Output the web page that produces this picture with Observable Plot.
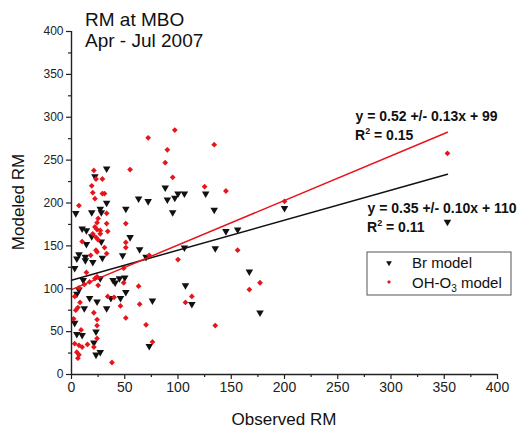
<!DOCTYPE html>
<html><head><meta charset="utf-8">
<script src="https://cdn.jsdelivr.net/npm/d3@7"></script>
<script src="https://cdn.jsdelivr.net/npm/@observablehq/plot@0.6"></script>
<style>body{margin:0;background:#fff;} svg{font-family:Arial,"Liberation Sans",sans-serif;}</style>
</head><body><div id="chart"></div>
<script>
// Br model (black triangles)
const brX = [200,353,167,177,88,126,100,106,63,72,90,97,95,134,51,55,64,145,156,106,135,70,48,50,107,51,113,76,46,73,
  33,22,33,4,19,27,28,10,14,19,28,14,7,29,13,
  5,13,20,3,11,27,39,41,45,7,5,17,24,33,37,12,3,23,5,10,21,23,27];
const brY = [194,178,120,72,218,211,211,211,205,202,204,206,189,192,193,160,146,167,169,148,147,137,139,113,104,96,82,86,89,33,
  240,231,200,188,189,193,189,170,168,161,155,152,140,136,137,
  135,133,131,124,110,112,110,107,112,99,94,89,85,77,89,77,60,50,47,46,37,23,26];
// OH-O3 model (red diamonds)
const ohX = [200,353,177,167,72,97,134,90,55,88,95,125,145,51,51,51,156,73,100,49,49,63,113,107,64,46,51,70,135,76,
  21,23,29,19,20,29,31,22,7,33,25,24,33,22,24,27,34,20,27,23,25,10,31,23,18,33,24,
  14,24,22,17,12,7,25,3,8,34,40,4,6,21,2,24,24,9,24,3,7,10,15,21,5,7,38,6];
const ohY = [202,258,107,99,276,285,268,262,239,247,230,219,214,176,154,148,145,139,134,124,107,103,91,84,82,80,66,58,57,38,
  238,228,228,220,212,211,211,205,197,188,182,177,176,172,169,168,167,164,164,160,157,155,148,145,139,141,143,
  119,114,112,108,105,101,104,91,84,91,90,75,78,72,65,64,57,52,42,36,34,32,35,32,26,23,14,19];
// linear fits
const fitSeries = ["Br model","OH-O3 model"];
const fitSlope = [0.35, 0.52];
const fitIntercept = [110, 99];
const fitLabels = ["y = 0.35 +/- 0.10x + 110", "y = 0.52 +/- 0.13x + 99"];
const fitR2 = ["0.11", "0.15"];
const majorTicks = d3.range(0, 401, 50);
const minorTicks = d3.range(25, 400, 50);

const RED = "#e8141c";
const br = brX.map((x,i)=>({x, y: brY[i]}));
const oh = ohX.map((x,i)=>({x, y: ohY[i]}));
const xmax = d3.max([...brX, ...ohX]);
const fits = fitSeries.flatMap((s,i)=>[0, xmax].map(x=>({s, x, y: fitIntercept[i] + fitSlope[i]*x})));

const chart = Plot.plot({
  width: 523, height: 429,
  marginLeft: 71, marginRight: 26, marginTop: 31, marginBottom: 55,
  style: {background:"#fff", fontFamily:'Arial,"Liberation Sans",sans-serif', color:"#222"},
  x: {domain:[0,400], label:null},
  y: {domain:[0,400], label:null},
  marks: [
    Plot.dot(br, {x:"x", y:"y", symbol:"triangle", rotate:180, fill:"#111", r:2.8}),
    Plot.dot(oh, {x:"x", y:"y", symbol:"diamond2", fill:RED, r:2.6}),
    Plot.line(fits, {x:"x", y:"y", z:"s", stroke: d=>d.s==="Br model" ? "#111" : RED, strokeWidth:1.5}),
    Plot.axisX({ticks:minorTicks, tickSize:3, text:null, strokeWidth:1.2}),
    Plot.axisX({ticks:majorTicks, tickSize:5, tickPadding:3, fontSize:14, strokeWidth:1.2}),
    Plot.axisY({ticks:minorTicks, tickSize:3, text:null, strokeWidth:1.2}),
    Plot.axisY({ticks:majorTicks, tickSize:5, tickPadding:3, fontSize:12, strokeWidth:1.2}),
    Plot.ruleX([0], {stroke:"#222", strokeWidth:1.4}),
    Plot.ruleY([0], {stroke:"#222", strokeWidth:1.4}),
    Plot.text([fitLabels[1]], {frameAnchor:"top-left", dx:284, dy:80, text:d=>d, fontWeight:"bold", fontSize:14, textAnchor:"start", fill:"#111"}),
    Plot.text([fitLabels[0]], {frameAnchor:"top-left", dx:296, dy:172, text:d=>d, fontWeight:"bold", fontSize:14, textAnchor:"start", fill:"#111"})
  ]
});
document.getElementById("chart").appendChild(chart);

const svg = d3.select(chart);
const font = 'Arial,"Liberation Sans",sans-serif';
function txt(sel, x, y, size){
  return sel.append("text").attr("x",x).attr("y",y).attr("text-anchor","start").attr("font-family",font).attr("font-size",size).attr("fill","#111");
}
// R² lines
function r2(x, y, v){
  const t = txt(svg, x, y, 14).attr("font-weight","bold");
  t.append("tspan").text("R");
  t.append("tspan").attr("dy",-6).attr("font-size",9).text("2");
  t.append("tspan").attr("dy",6).text(" = " + v);
}
r2(355, 140, fitR2[1]);
r2(367, 232, fitR2[0]);
// title
txt(svg, 85, 26, 19).text("RM at MBO");
txt(svg, 85, 47, 19).text("Apr - Jul 2007");
// axis titles
txt(svg, 284, 425, 17).attr("text-anchor","middle").text("Observed RM");
svg.append("text").attr("transform","translate(24,202) rotate(-90)").attr("text-anchor","middle").attr("font-family",font).attr("font-size",17).attr("fill","#111").text("Modeled RM");
// legend
const lg = svg.append("g");
lg.append("rect").attr("x",367).attr("y",252).attr("width",144).attr("height",43).attr("fill","#fff").attr("stroke","#555").attr("stroke-width",1);
lg.append("path").attr("d", d3.symbol(d3.symbolTriangle, 14)()).attr("transform","translate(389,263) rotate(180)").attr("fill","#111");
lg.append("path").attr("d", d3.symbol(d3.symbolDiamond2, 10)()).attr("transform","translate(389,282)").attr("fill",RED);
txt(lg, 412, 268, 15).text(fitSeries[0]);
const t2 = txt(lg, 412, 288, 15);
t2.append("tspan").text("OH-O");
t2.append("tspan").attr("dy",4).attr("font-size",10).text("3");
t2.append("tspan").attr("dy",-4).text(" model");
</script></body></html>
